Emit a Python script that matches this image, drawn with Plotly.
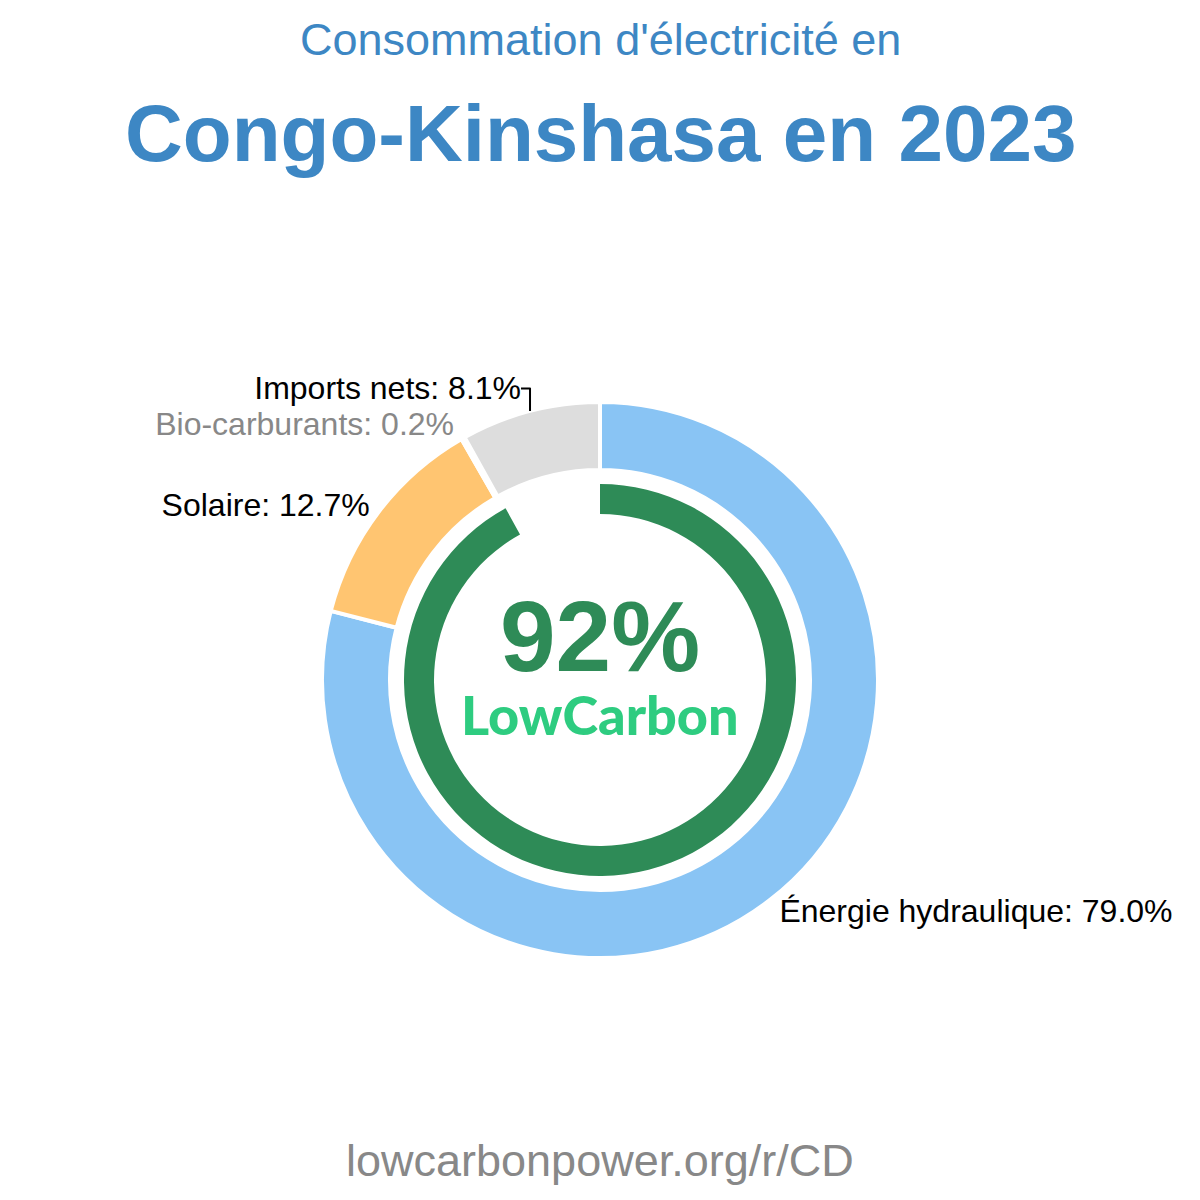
import plotly.graph_objects as go

# Data
labels = ["Énergie hydraulique", "Solaire", "Bio-carburants", "Imports nets"]
values = [79.0, 12.7, 0.2, 8.1]
slice_colors = ["#89c4f4", "#ffc571", "#b0b0b0", "#dddddd"]
label_colors = ["#000000", "#000000", "#888888", "#000000"]
low_carbon_share = 92

title_line1 = "Consommation d'électricité en"
title_line2 = "Congo-Kinshasa en 2023"
footer = "lowcarbonpower.org/r/CD"

W = H = 1200
cx, cy = 600, 680
R_outer = 278
R_inner_ring = 196


def dom(r):
    return dict(
        x=[(cx - r) / W, (cx + r) / W],
        y=[1 - (cy + r) / H, 1 - (cy - r) / H],
    )


texts = [f"{l}: {v:.1f}%" for l, v in zip(labels, values)]

fig = go.Figure()
fig.add_trace(go.Pie(
    labels=labels,
    values=values,
    text=texts,
    textinfo="text",
    textposition="outside",
    textfont=dict(family="Liberation Sans, Arial, sans-serif", size=32, color=label_colors),
    marker=dict(colors=slice_colors, line=dict(color="white", width=4)),
    sort=False,
    direction="clockwise",
    rotation=0,
    hole=210 / 278,
    domain=dom(R_outer),
    showlegend=False,
    hoverinfo="skip",
))

fig.add_trace(go.Pie(
    labels=["Bas carbone", "Autre"],
    values=[low_carbon_share, 100 - low_carbon_share],
    textinfo="none",
    marker=dict(colors=["#2e8b57", "rgba(0,0,0,0)"], line=dict(width=0)),
    sort=False,
    direction="clockwise",
    rotation=0,
    hole=166 / 196,
    domain=dom(R_inner_ring),
    showlegend=False,
    hoverinfo="skip",
))

annotations = [
    dict(text=title_line1, x=0.5, y=1 - 40 / H, xref="paper", yref="paper",
         showarrow=False, xanchor="center", yanchor="middle",
         font=dict(family="Liberation Sans, Arial, sans-serif", size=45, color="#3d87c4")),
    dict(text=f"<b>{title_line2}</b>", x=0.5, y=1 - 133 / H, xref="paper", yref="paper",
         showarrow=False, xanchor="center", yanchor="middle",
         font=dict(family="Liberation Sans, Arial, sans-serif", size=80, color="#3d87c4")),
    dict(text=f"<b>{low_carbon_share}%</b>", x=0.5, y=1 - 636 / H, xref="paper", yref="paper",
         showarrow=False, xanchor="center", yanchor="middle",
         font=dict(family="Liberation Sans, Arial, sans-serif", size=100, color="#2e8b57")),
    dict(text="LowCarbon", x=0.5, y=1 - 714 / H, xref="paper", yref="paper",
         showarrow=False, xanchor="center", yanchor="middle",
         font=dict(family="Lato, sans-serif", size=54, weight=900, color="#2ecc80")),
    dict(text=footer, x=0.5, y=1 - 1160 / H, xref="paper", yref="paper",
         showarrow=False, xanchor="center", yanchor="middle",
         font=dict(family="Liberation Sans, Arial, sans-serif", size=45, color="#888888")),
]

fig.update_layout(
    width=W, height=H,
    margin=dict(l=0, r=0, t=0, b=0),
    paper_bgcolor="white",
    plot_bgcolor="white",
    annotations=annotations,
)

fig.write_html("out.html")
